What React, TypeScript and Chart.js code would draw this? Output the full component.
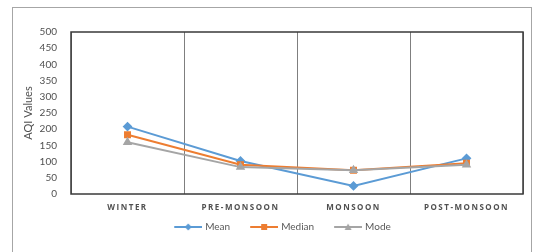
import React, { useEffect, useRef } from "react";
import { Chart, registerables } from "chart.js";

Chart.register(...registerables);

const categories = ["WINTER", "PRE-MONSOON", "MONSOON", "POST-MONSOON"];
const meanValues = [208, 102, 25, 110];
const medianValues = [183, 90, 73, 95];
const modeValues = [160, 83, 73, 90];
const yMin = 0;
const yMax = 500;
const yStep = 50;
const yTitle = "AQI Values";

const BLUE = "#5B9BD5";
const ORANGE = "#ED7D31";
const GRAY = "#A5A5A5";

function makeLegendIcon(color: string, shape: string) {
  const c = document.createElement("canvas");
  c.width = 30;
  c.height = 10;
  const ctx = c.getContext("2d")!;
  ctx.strokeStyle = color;
  ctx.lineWidth = 2;
  ctx.beginPath();
  ctx.moveTo(2, 5);
  ctx.lineTo(30, 5);
  ctx.stroke();
  ctx.fillStyle = color;
  ctx.beginPath();
  if (shape === "diamond") {
    ctx.moveTo(16, 1.5);
    ctx.lineTo(19.5, 5);
    ctx.lineTo(16, 8.5);
    ctx.lineTo(12.5, 5);
  } else if (shape === "square") {
    ctx.rect(13, 2, 6, 6);
  } else {
    ctx.moveTo(16, 1.5);
    ctx.lineTo(19.5, 8);
    ctx.lineTo(12.5, 8);
  }
  ctx.closePath();
  ctx.fill();
  return c;
}

export default function App() {
  const ref = useRef<HTMLCanvasElement | null>(null);

  useEffect(() => {
    const canvas = ref.current!;
    const icons = [
      makeLegendIcon(BLUE, "diamond"),
      makeLegendIcon(ORANGE, "square"),
      makeLegendIcon(GRAY, "triangle"),
    ];

    const framePlugin = {
      id: "frame",
      afterLayout(chart: any) {
        const lg = chart.legend;
        if (lg) {
          const h = lg.bottom - lg.top;
          lg.top = 202;
          lg.bottom = 202 + h;
          lg.left += 12;
          lg.right += 12;
        }
      },
      beforeDraw(chart: any) {
        const ctx = chart.ctx;
        ctx.save();
        ctx.fillStyle = "#ffffff";
        ctx.fillRect(0, 0, chart.width, chart.height);
        ctx.strokeStyle = "#a6a6a6";
        ctx.lineWidth = 1;
        ctx.strokeRect(12.5, 7.5, 519, 260);
        ctx.restore();
      },
      beforeDatasetsDraw(chart: any) {
        const ctx = chart.ctx;
        const a = chart.chartArea;
        ctx.save();
        ctx.strokeStyle = "#3a3a3a";
        ctx.lineWidth = 1.5;
        ctx.strokeRect(a.left, a.top, a.right - a.left, a.bottom - a.top);
        ctx.restore();
      },
    };

    const chart = new Chart(canvas, {
      type: "line",
      data: {
        labels: categories,
        datasets: [
          {
            label: "Mean",
            data: meanValues,
            borderColor: BLUE,
            backgroundColor: BLUE,
            borderWidth: 2,
            pointStyle: "rectRot",
            pointRadius: 3.5,
            order: 3,
          },
          {
            label: "Median",
            data: medianValues,
            borderColor: ORANGE,
            backgroundColor: ORANGE,
            borderWidth: 2,
            pointStyle: "rect",
            pointRadius: 3.5,
            order: 2,
          },
          {
            label: "Mode",
            data: modeValues,
            borderColor: GRAY,
            backgroundColor: GRAY,
            borderWidth: 2,
            pointStyle: "triangle",
            pointRadius: 3.5,
            order: 1,
          },
        ],
      },
      options: {
        responsive: false,
        animation: false,
        devicePixelRatio: 1,
        layout: { padding: { top: 32, left: 18, right: 11, bottom: 0 } },
        plugins: {
          tooltip: { enabled: false },
          legend: {
            position: "bottom",
            labels: {
              usePointStyle: true,
              pointStyleWidth: 26,
              padding: 20,
              color: "#595959",
              font: { family: "Lato", size: 10 },
              generateLabels: (chart: any) =>
                chart.data.datasets.map((ds: any, i: number) => ({
                  text: ds.label,
                  pointStyle: icons[i],
                  fillStyle: ds.borderColor,
                  strokeStyle: ds.borderColor,
                  lineWidth: 0,
                  fontColor: "#595959",
                  datasetIndex: i,
                  hidden: false,
                })),
            },
          },
        },
        scales: {
          x: {
            offset: true,
            grid: {
              offset: true,
              color: "#7f7f7f",
              lineWidth: 1,
              drawTicks: false,
            },
            border: { display: false },
            ticks: {
              padding: 9,
              color: "#505050",
              font: { family: "Open Sans", size: 8, weight: "bold" },
              maxRotation: 0,
            },
            afterFit: (s: any) => {
              s.height = 18;
            },
          },
          y: {
            min: yMin,
            max: yMax,
            grid: { display: false, drawTicks: false },
            border: { display: false },
            ticks: {
              stepSize: yStep,
              padding: 14,
              color: "#505050",
              font: { family: "Lato", size: 10 },
            },
            title: {
              display: true,
              text: yTitle,
              color: "#505050",
              font: { family: "Lato", size: 11 },
              padding: { top: 4, bottom: 4 },
            },
            afterFit: (s: any) => {
              s.width = 53;
            },
          },
        },
      },
      plugins: [framePlugin],
    } as any);

    const xs: any = chart.scales.x;
    const orig = xs.drawLabels.bind(xs);
    xs.drawLabels = function (area: any) {
      const ctx = xs.ctx;
      ctx.save();
      (ctx as any).letterSpacing = "1.5px";
      orig(area);
      ctx.restore();
    };
    chart.render();

    return () => chart.destroy();
  }, []);

  return (
    <div
      style={{
        position: "fixed",
        left: 0,
        top: 0,
        width: 534,
        height: 252,
        background: "#fff",
      }}
    >
      <canvas ref={ref} width={534} height={252} style={{ display: "block" }} />
    </div>
  );
}
